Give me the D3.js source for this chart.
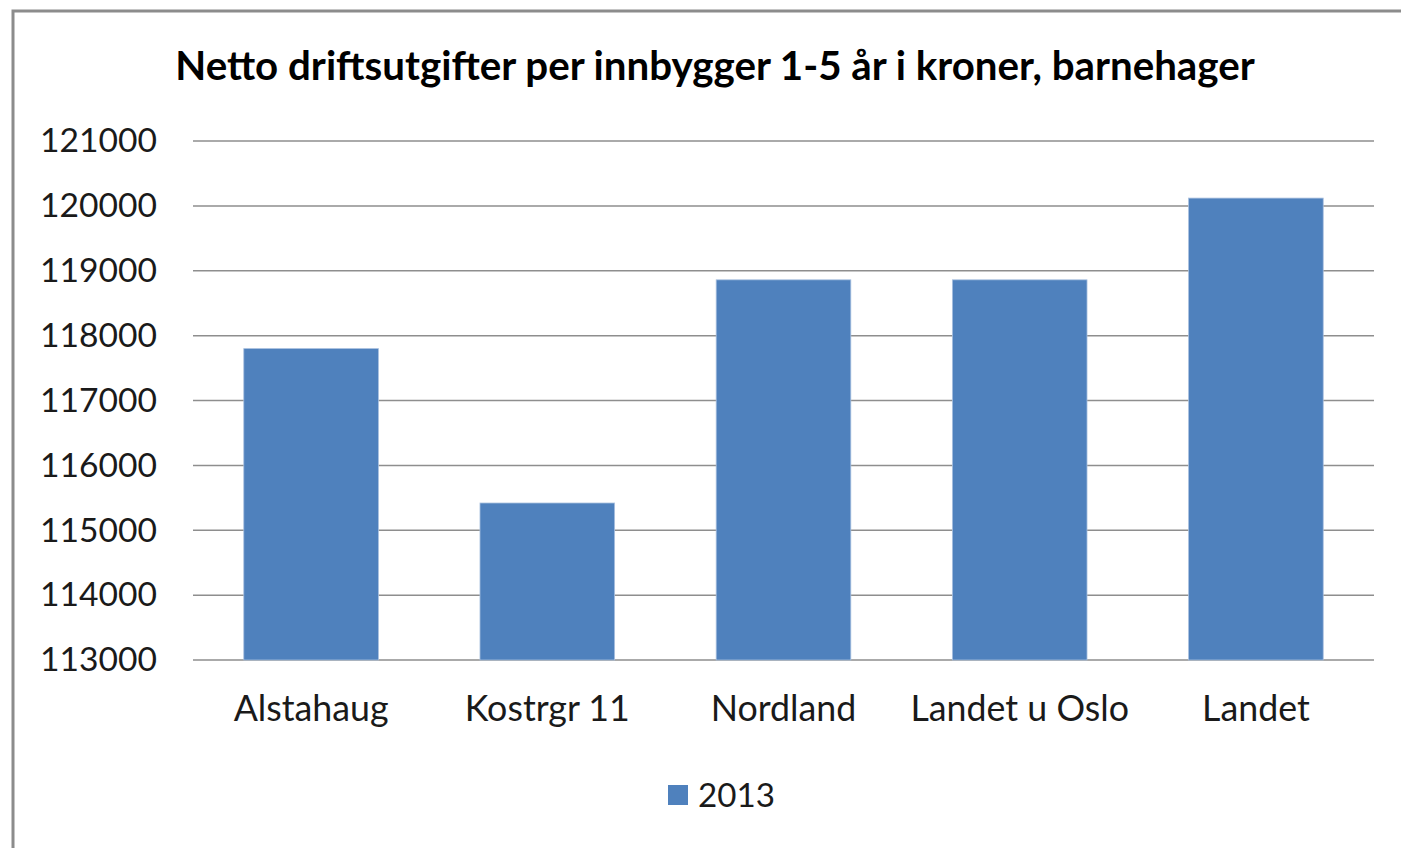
<!DOCTYPE html>
<html>
<head>
<meta charset="utf-8">
<script src="https://cdn.jsdelivr.net/npm/d3@7"></script>
<style>
  html, body { margin: 0; padding: 0; background: #fff; }
  svg { display: block; }
</style>
</head>
<body>
<script>
// Data.
const categories = ["Alstahaug", "Kostrgr 11", "Nordland", "Landet u Oslo", "Landet"];
const values2013 = [117800, 115420, 118860, 118860, 120120];
const yTicks = [113000, 114000, 115000, 116000, 117000, 118000, 119000, 120000, 121000];
const seriesName = "2013";
const title = "Netto driftsutgifter per innbygger 1-5 år i kroner, barnehager";

const width = 1401, height = 848;
const margin = { top: 141, right: 27, bottom: 188, left: 193 };
const BAR = "#4f81bd";
const FONT = "Lato, 'Open Sans', sans-serif";

const svg = d3.select("body").append("svg")
  .attr("width", width).attr("height", height)
  .attr("font-family", FONT);

svg.append("rect").attr("width", width).attr("height", height).attr("fill", "#fff");

// Chart frame (left and top edges visible, right/bottom run off the picture).
svg.append("path")
  .attr("d", `M13,${height} L13,11 L${width},11`)
  .attr("fill", "none").attr("stroke", "#8c8c8c").attr("stroke-width", 3);

// Shrink a text node's font size so it spans the given width.
function fitWidth(sel, target) {
  const node = sel.node();
  const fs = parseFloat(sel.attr("font-size"));
  const w = node.getComputedTextLength();
  sel.attr("font-size", (fs * target / w).toFixed(2));
}

const title_t = svg.append("text")
  .attr("x", 715).attr("y", 80)
  .attr("text-anchor", "middle")
  .attr("font-size", 32).attr("font-weight", "bold")
  .attr("fill", "#000")
  .text(title);
fitWidth(title_t, 1080);

const innerW = width - margin.left - margin.right;
const innerH = height - margin.top - margin.bottom;
const g = svg.append("g").attr("transform", `translate(${margin.left},${margin.top})`);

const x = d3.scaleBand().domain(categories).range([0, innerW]).paddingInner(0.43).paddingOuter(0.215);
const y = d3.scaleLinear().domain([113000, 121000]).range([innerH, 0]);

// Gridlines
g.append("g")
  .selectAll("line")
  .data(yTicks)
  .join("line")
  .attr("x1", 0).attr("x2", innerW)
  .attr("y1", d => y(d)).attr("y2", d => y(d))
  .attr("stroke", "#8e8e8e").attr("stroke-width", 1.5);

// Bars
g.append("g")
  .selectAll("rect")
  .data(values2013)
  .join("rect")
  .attr("x", (d, i) => x(categories[i]))
  .attr("y", d => y(d))
  .attr("width", x.bandwidth())
  .attr("height", d => innerH - y(d))
  .attr("fill", BAR)
  .attr("stroke", "#a9c0df").attr("stroke-width", 0.8);

// Y axis labels
const yAxis = g.append("g")
  .call(d3.axisLeft(y).tickValues(yTicks).tickSize(0).tickPadding(36).tickFormat(d3.format("d")));
yAxis.select(".domain").remove();
yAxis.selectAll("text").attr("font-family", FONT).attr("font-size", 30).attr("fill", "#1a1a1a");
const probe = yAxis.select("text");
const k = 117 / probe.node().getComputedTextLength();
yAxis.selectAll("text").attr("font-size", (30 * k).toFixed(2));

// X axis labels
const xAxis = g.append("g")
  .attr("transform", `translate(0,${innerH})`)
  .call(d3.axisBottom(x).tickSize(0).tickPadding(36));
xAxis.select(".domain").remove();
xAxis.selectAll("text").attr("font-family", FONT).attr("font-size", 30).attr("fill", "#1a1a1a");
const xprobe = xAxis.select("text");
const kx = 155 / xprobe.node().getComputedTextLength();
xAxis.selectAll("text").attr("font-size", (30 * kx).toFixed(2));

// Legend
const legend = svg.append("g").attr("transform", "translate(668,785)");
legend.append("rect").attr("width", 20).attr("height", 20).attr("fill", BAR);
const lt = legend.append("text")
  .attr("x", 30).attr("y", 10).attr("dy", "0.36em")
  .attr("font-size", 30).attr("fill", "#1a1a1a")
  .text(seriesName);
fitWidth(lt, 77);
</script>
</body>
</html>
